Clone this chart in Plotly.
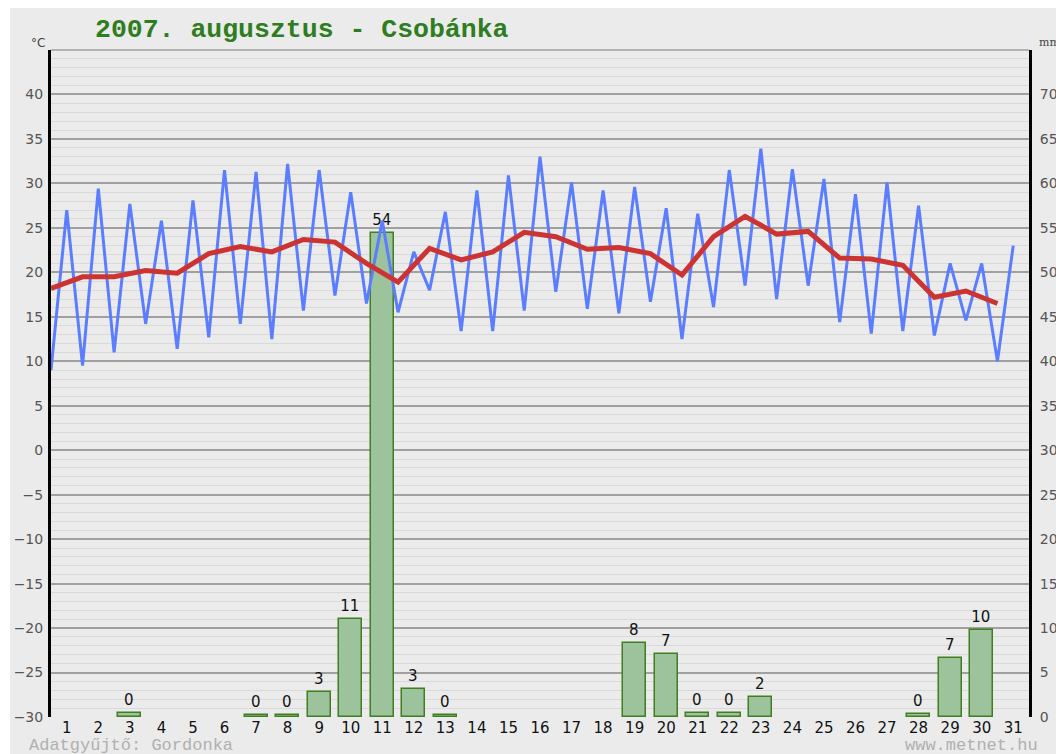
import numpy as np
import plotly.graph_objects as go

days = list(range(1, 32))
t_min = [9.0, 9.5, 11.0, 14.2, 11.4, 12.7, 14.2, 12.5, 15.7, 17.4,
         16.5, 15.5, 18.0, 13.4, 13.4, 15.7, 17.8, 15.9, 15.4, 16.7,
         12.5, 16.1, 18.5, 17.0, 18.5, 14.4, 13.1, 13.4, 12.9, 14.6, 10.0]
t_max = [27.0, 29.4, 27.7, 25.8, 28.1, 31.5, 31.3, 32.2, 31.5, 29.0,
         25.8, 22.3, 26.8, 29.2, 30.9, 33.0, 30.1, 29.2, 29.6, 27.2,
         26.6, 31.5, 33.9, 31.6, 30.5, 28.8, 30.1, 27.5, 21.0, 21.0, 23.0]
t_mean = [18.2, 19.5, 19.5, 20.2, 19.9, 22.1, 22.9, 22.3, 23.7, 23.4,
          21.0, 18.9, 22.7, 21.4, 22.3, 24.5, 24.0, 22.6, 22.8, 22.1,
          19.7, 24.0, 26.3, 24.3, 24.6, 21.6, 21.5, 20.8, 17.2, 17.9, 16.5]
precip_days = [3, 7, 8, 9, 10, 11, 12, 13, 19, 20, 21, 22, 23, 28, 29, 30]
precip_mm = [0.5, 0.2, 0.2, 2.8, 11.0, 54.4, 3.1, 0.2, 8.3, 7.1, 0.4, 0.4, 2.3, 0.3, 6.6, 9.8]

d = np.array(days, dtype=float)
x_temp = np.empty(2 * len(days))
x_temp[0::2] = d - 0.5
x_temp[1::2] = d
y_temp = np.empty(2 * len(days))
y_temp[0::2] = t_min
y_temp[1::2] = t_max

BG = "#ebebeb"
# plot area in page pixels: x 51..1029, y 50..717
L, R, T, B = 51, 27, 50, 37
PW, PH = 1056 - L - R, 754 - T - B


def px(xp):
    return (xp - L) / PW


def py(yp):
    return (754 - B - yp) / PH


fig = go.Figure()
fig.add_trace(go.Bar(
    x=precip_days, y=precip_mm, yaxis="y", width=0.73,
    marker=dict(color="#9cc39c", line=dict(color="#3f7f1f", width=1.5)),
    text=[f"{v:.0f}" for v in precip_mm], textposition="outside",
    textfont=dict(family="DejaVu Sans", size=15, color="#111"),
    cliponaxis=False, showlegend=False,
))
fig.add_trace(go.Scatter(
    x=x_temp, y=y_temp, yaxis="y2", mode="lines",
    line=dict(color="#5b7dff", width=3), showlegend=False,
))
fig.add_trace(go.Scatter(
    x=d - 0.5, y=t_mean, yaxis="y2", mode="lines",
    line=dict(color="#cc3333", width=5), showlegend=False,
))

fig.update_layout(
    width=1056, height=754, autosize=False,
    margin=dict(l=L, r=R, t=T, b=B),
    paper_bgcolor=BG, plot_bgcolor=BG,
    bargap=0,
    xaxis=dict(range=[0.5, 31.5], tickvals=days, showgrid=False, zeroline=False,
               tickfont=dict(family="DejaVu Sans", size=15, color="#111"),
               showline=False, ticks=""),
    yaxis=dict(range=[0, 75], side="right", tickvals=list(range(0, 75, 5)),
               showgrid=True, gridcolor="#a0a0a0", gridwidth=1.5, zeroline=False,
               minor=dict(dtick=1, tick0=0, showgrid=True, gridcolor="#d9d9d9", gridwidth=1),
               showline=True, linecolor="#000", linewidth=3, automargin=False,
               ticklabelstandoff=5,
               tickfont=dict(family="DejaVu Sans", size=14, color="#555"), ticks=""),
    yaxis2=dict(range=[-30, 45], overlaying="y", side="left",
                tickvals=list(range(-30, 45, 5)), showgrid=False, zeroline=False,
                showline=True, linecolor="#000", linewidth=3, automargin=False,
                ticklabelstandoff=2,
                tickfont=dict(family="DejaVu Sans", size=14, color="#555"), ticks=""),
    shapes=[
        dict(type="line", xref="paper", yref="y2", x0=0, x1=1, y0=0, y1=0,
             line=dict(color="#000", width=1.5), layer="below"),
        dict(type="line", xref="paper", yref="paper", x0=0, x1=1, y0=1, y1=1,
             line=dict(color="#a0a0a0", width=1.5), layer="below"),
        dict(type="rect", xref="paper", yref="paper", x0=px(-5), x1=px(10),
             y0=py(760), y1=py(-5), fillcolor="white", line=dict(width=0), layer="below"),
        dict(type="rect", xref="paper", yref="paper", x0=px(-5), x1=px(1070),
             y0=py(8), y1=py(-5), fillcolor="white", line=dict(width=0), layer="below"),
    ],
    annotations=[
        dict(text="2007. augusztus - Csobánka", xref="paper", yref="paper",
             x=px(93), y=py(30), xanchor="left", yanchor="middle",
             showarrow=False,
             font=dict(family="Liberation Mono", size=26.5, color="#2e7d1e", weight="bold")),
        dict(text="°C", xref="paper", yref="paper", x=px(38), y=py(43),
             xanchor="center", yanchor="middle", showarrow=False,
             font=dict(family="DejaVu Sans", size=12, color="#444")),
        dict(text="mm", xref="paper", yref="paper", x=px(1037), y=py(43),
             xanchor="left", yanchor="middle", showarrow=False,
             font=dict(family="DejaVu Serif", size=11, color="#444")),
        dict(text="Adatgyűjtő: Gordonka", xref="paper", yref="paper",
             x=px(27), y=py(745), xanchor="left", yanchor="middle",
             showarrow=False, font=dict(family="Liberation Mono", size=17, color="#b0b0b0")),
        dict(text="www.metnet.hu", xref="paper", yref="paper",
             x=px(1040), y=py(745), xanchor="right", yanchor="middle",
             showarrow=False, font=dict(family="Liberation Mono", size=17, color="#b0b0b0")),
    ],
)
fig.write_html(
    "out.html",
    config={"responsive": False, "displayModeBar": False},
    post_script="document.body.style.margin='0';document.body.style.overflow='hidden';",
)
